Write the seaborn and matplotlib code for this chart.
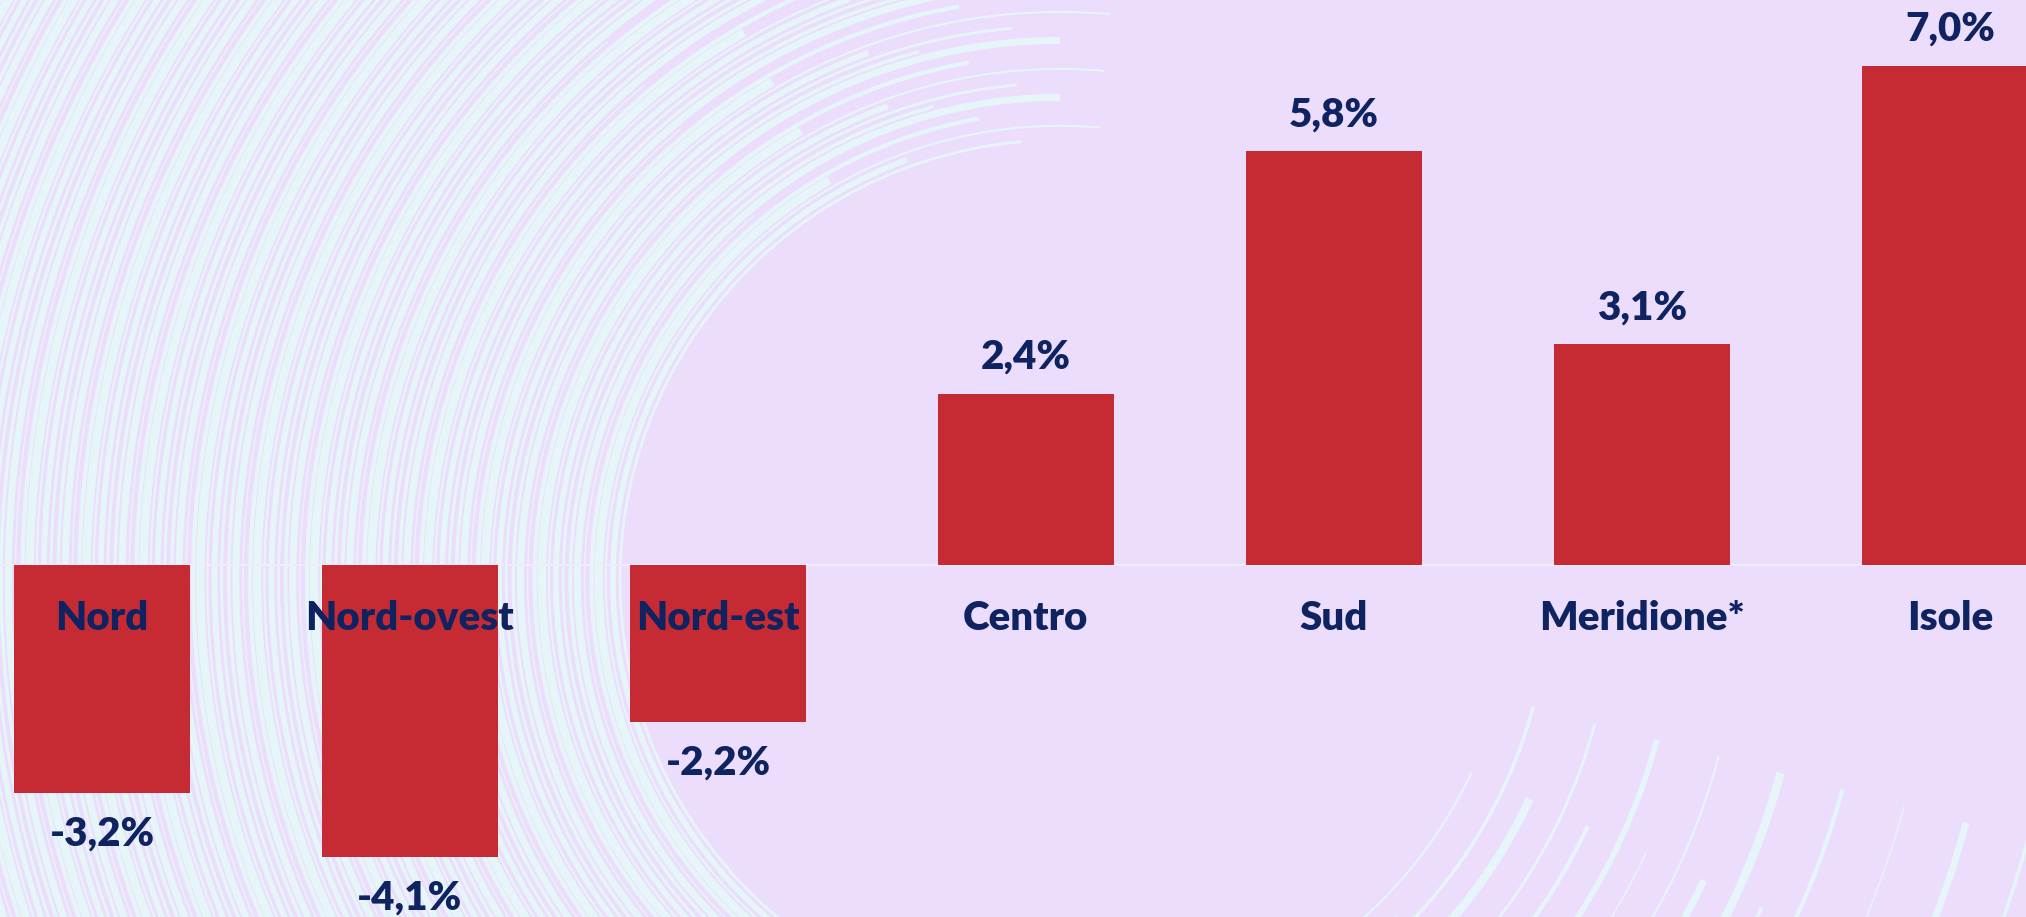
import numpy as np
import matplotlib.pyplot as plt
import seaborn as sns
from matplotlib.patches import Arc

# Data
regions = ["Nord", "Nord-ovest", "Nord-est", "Centro", "Sud", "Meridione*", "Isole"]
values = [-3.2, -4.1, -2.2, 2.4, 5.8, 3.1, 7.0]
value_labels = ["-3,2%", "-4,1%", "-2,2%", "2,4%", "5,8%", "3,1%", "7,0%"]

BAR_RED = "#C62B34"
NAVY = "#0E2360"
BG = "#ECDDFD"

sns.set_theme(style="white")
plt.rcParams["font.family"] = ["Lato", "DejaVu Sans"]

fig = plt.figure(figsize=(20.26, 9.17), dpi=100)
fig.patch.set_facecolor(BG)

# decorative swirl in the background (pixel coordinates, y up)
bg = fig.add_axes([0, 0, 1, 1], zorder=0)
bg.set_xlim(0, 2026)
bg.set_ylim(0, 917)
bg.axis("off")
t1 = [95, 110, 85, 120, 100, 130, 90, 105]
t2 = [300, 270, 335, 250, 290, 315, 260, 345, 280]
lws = [2, 4, 1.5, 6, 3, 1, 5, 2.5]
for i, r in enumerate(np.linspace(440, 1500, 150)):
    bg.add_patch(Arc((1060, 337), 2 * r, 2 * r, theta1=t1[i % 8], theta2=t2[i % 9],
                     color="#E6FAF8", lw=lws[i % 8], alpha=0.85))

ax = fig.add_axes([0, 0, 1, 1], zorder=1)
ax.set_facecolor("none")
sns.barplot(x=regions, y=values, color=BAR_RED, saturation=1, width=0.571,
            linewidth=0, ax=ax)

ax.set_xlim(-0.331, 6.247)
ax.set_ylim(-4.94, 7.92)

# value labels
for i, (v, lab) in enumerate(zip(values, value_labels)):
    off = 26 if v > 0 else -29.5
    ax.annotate(lab, (i, v), xytext=(0, off), textcoords="offset points",
                ha="center", va="center", fontsize=29, fontweight="heavy", color=NAVY)

# category labels
for i, name in enumerate(regions):
    ax.annotate(name, (i, 0), xytext=(0, -39), textcoords="offset points",
                ha="center", va="center", fontsize=29, fontweight="heavy", color=NAVY)

ax.axhline(0, color="#F2ECFA", lw=1.5, zorder=0.5)
ax.set_xticks([])
ax.set_yticks([])
ax.set_xlabel("")
ax.set_ylabel("")
for s in ax.spines.values():
    s.set_visible(False)

fig.savefig("out.png", dpi=100, facecolor=BG)
